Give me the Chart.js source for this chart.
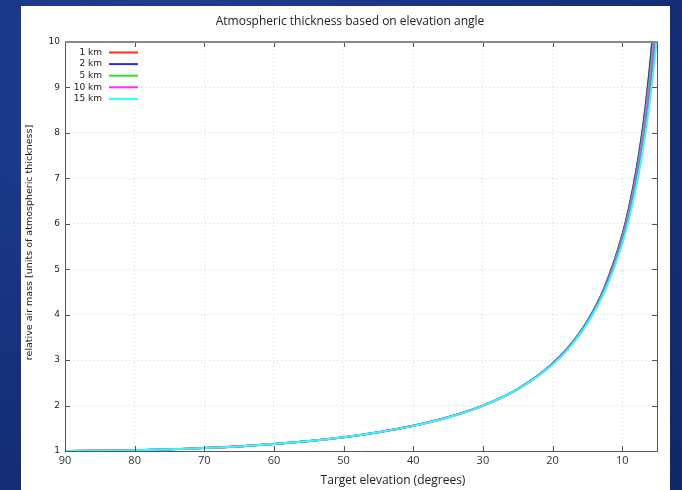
<!DOCTYPE html>
<html>
<head>
<meta charset="utf-8">
<script src="https://cdn.jsdelivr.net/npm/chart.js@4"></script>
<style>
html, body { margin: 0; padding: 0; }
body {
  width: 682px; height: 490px; overflow: hidden; position: relative;
  background: radial-gradient(ellipse at 25% 15%, #1f3f95 0%, #16317c 55%, #102767 100%);
}
#panel { position: absolute; left: 21px; top: 6px; width: 649px; height: 484px; background: #fff; }
#c { position: absolute; left: 0; top: 0; }
</style>
</head>
<body>
<div id="panel"></div>
<canvas id="c" width="682" height="490"></canvas>
<script>
// elevation angle (degrees) and relative air mass for each layer thickness
const elevation = [90, 80, 70, 60, 50, 45, 40, 35, 30, 25, 20, 17.5, 15, 12.5, 10, 9, 8, 7, 6.5, 6, 5.5, 5];
const airmass1km  = [1.000, 1.015, 1.064, 1.155, 1.305, 1.414, 1.556, 1.743, 2.000, 2.364, 2.922, 3.323, 3.856, 4.614, 5.746, 6.374, 7.156, 8.162, 8.781, 9.502, 10.352, 11.358];
const airmass2km  = [1.000, 1.015, 1.064, 1.155, 1.305, 1.414, 1.555, 1.743, 1.999, 2.363, 2.921, 3.320, 3.856, 4.607, 5.732, 6.355, 7.128, 8.117, 8.730, 9.437, 10.274, 11.247];
const airmass5km  = [1.000, 1.015, 1.064, 1.155, 1.305, 1.414, 1.555, 1.742, 1.998, 2.362, 2.915, 3.312, 3.843, 4.584, 5.688, 6.296, 7.048, 8.002, 8.582, 9.249, 10.026, 10.939];
const airmass10km = [1.000, 1.015, 1.064, 1.154, 1.305, 1.413, 1.554, 1.741, 1.995, 2.358, 2.907, 3.300, 3.822, 4.549, 5.621, 6.205, 6.921, 7.819, 8.357, 8.970, 9.674, 10.491];
const airmass15km = [1.000, 1.015, 1.064, 1.154, 1.304, 1.413, 1.553, 1.737, 1.993, 2.354, 2.898, 3.287, 3.803, 4.515, 5.556, 6.118, 6.803, 7.650, 8.152, 8.722, 9.367, 10.106];

const seriesNames = ['1 km', '2 km', '5 km', '10 km', '15 km'];
const seriesColors = ['#ff2a2a', '#2a2aff', '#2ee02e', '#ff2aff', '#2affff'];
const xTicks = [90, 80, 70, 60, 50, 40, 30, 20, 10];

const allSeries = [airmass1km, airmass2km, airmass5km, airmass10km, airmass15km];

function pts(vals) {
  return elevation.map((e, i) => ({ x: e, y: vals[i] }));
}

// gnuplot style frame with inward ticks on all sides
const frameTicks = {
  id: 'frameTicks',
  afterDatasetsDraw(chart) {
    const { ctx, chartArea: a, scales: { x, y } } = chart;
    ctx.save();
    ctx.strokeStyle = '#555';
    ctx.lineWidth = 1;
    ctx.beginPath();
    x.ticks.forEach(t => {
      const px = Math.round(x.getPixelForValue(t.value)) + 0.5;
      ctx.moveTo(px, a.bottom); ctx.lineTo(px, a.bottom - 5);
      ctx.moveTo(px, a.top); ctx.lineTo(px, a.top + 5);
    });
    y.ticks.forEach(t => {
      const py = Math.round(y.getPixelForValue(t.value)) + 0.5;
      ctx.moveTo(a.left, py); ctx.lineTo(a.left + 5, py);
      ctx.moveTo(a.right, py); ctx.lineTo(a.right - 5, py);
    });
    ctx.stroke();
    ctx.beginPath();
    ctx.moveTo(a.left + 0.5, a.top);
    ctx.lineTo(a.left + 0.5, a.bottom + 0.5);
    ctx.lineTo(a.right + 0.5, a.bottom + 0.5);
    ctx.lineTo(a.right + 0.5, a.top);
    ctx.stroke();
    ctx.strokeStyle = '#8a8a8a';
    ctx.lineWidth = 2;
    ctx.beginPath();
    ctx.moveTo(a.left, a.top); ctx.lineTo(a.right + 1, a.top);
    ctx.stroke();
    ctx.restore();
  },
  afterDraw(chart) {
    const { ctx, chartArea: a } = chart;
    ctx.save();
    // legend
    ctx.font = '9px "DejaVu Sans"';
    ctx.textAlign = 'right';
    ctx.textBaseline = 'middle';
    chart.data.datasets.forEach((ds, i) => {
      const yy = a.top + 10.5 + i * 11.6;
      ctx.fillStyle = '#222';
      ctx.fillText(ds.label, a.left + 37, yy);
      ctx.strokeStyle = ds.borderColor;
      ctx.lineWidth = 2;
      ctx.beginPath();
      ctx.moveTo(a.left + 44, yy); ctx.lineTo(a.left + 73, yy);
      ctx.stroke();
    });
    // axis titles
    ctx.fillStyle = '#222';
    ctx.textAlign = 'center';
    ctx.font = '12px "Open Sans"';
    ctx.fillText('Target elevation (degrees)', (a.left + a.right) / 2 + 32, a.bottom + 30);
    ctx.translate(30, (a.top + a.bottom) / 2 - 4);
    ctx.rotate(-Math.PI / 2);
    ctx.font = '9.5px "DejaVu Sans"';
    ctx.fillText('relative air mass [units of atmospheric thickness]', 0, 0);
    ctx.restore();
  }
};

new Chart(document.getElementById('c'), {
  type: 'line',
  data: {
    datasets: allSeries.map((s, i) => ({
      label: seriesNames[i],
      data: pts(s),
      borderColor: seriesColors[i],
      borderWidth: 2,
      pointRadius: 0,
      fill: false,
      cubicInterpolationMode: 'monotone',
      order: 5 - i
    }))
  },
  options: {
    responsive: false,
    animation: false,
    layout: { padding: { left: 43, right: 25, top: 0, bottom: 0 } },
    plugins: {
      legend: { display: false },
      tooltip: { enabled: false },
      title: {
        display: true,
        text: 'Atmospheric thickness based on elevation angle',
        color: '#222',
        font: { family: 'Open Sans', size: 12, weight: 'normal' },
        padding: { top: 14, bottom: 13.6 }
      }
    },
    scales: {
      x: {
        type: 'linear',
        reverse: true,
        min: 5,
        max: 90,
        afterBuildTicks: s => { s.ticks = xTicks.map(v => ({ value: v })); },
        afterFit: s => { s.height = 39; },
        grid: { color: '#d6d6d6', lineWidth: 1, drawTicks: false },
        border: { display: false, dash: [1, 3] },
        ticks: { color: '#333', padding: 3, font: { family: 'Open Sans', size: 11 } }
      },
      y: {
        min: 1,
        max: 10,
        afterFit: s => { s.width = 22; },
        grid: { color: '#d6d6d6', lineWidth: 1, drawTicks: false },
        border: { display: false, dash: [1, 3] },
        ticks: { stepSize: 1, color: '#222', padding: 5, font: { family: 'DejaVu Sans', size: 9 } }
      }
    }
  },
  plugins: [frameTicks]
});
</script>
</body>
</html>
